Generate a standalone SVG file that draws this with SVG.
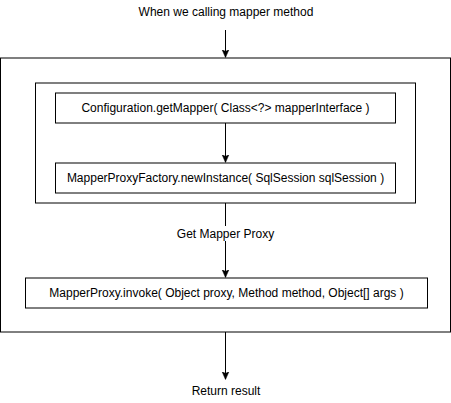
<svg xmlns="http://www.w3.org/2000/svg" width="451" height="403" viewBox="0 0 451 403">
<defs>
<style>
.box{fill:#fff;stroke:#000;stroke-width:1}
.frame{fill:none;stroke:#000;stroke-width:1}
.t{font-family:"Liberation Sans",Arial,sans-serif;font-size:12px;fill:#000;text-anchor:middle}
.c{fill:none;stroke:#000;stroke-width:1}
</style>
<marker id="ah" markerWidth="8" markerHeight="10" refX="7.5" refY="4" orient="auto" markerUnits="userSpaceOnUse" viewBox="0 0 8 8">
<path d="M0,0.5 L8,4 L0,7.5 L2,4 Z" fill="#000" stroke="#000" stroke-width="0.5"/>
</marker>
</defs>
<rect width="451" height="403" fill="#fff"/>
<g id="outer"><rect class="frame" x="0.5" y="58" width="450" height="274"/></g>
<g id="inner"><rect class="frame" x="35.5" y="83" width="380" height="120"/></g>
<g id="getMapper"><rect class="box" x="55.5" y="93" width="340" height="30"/><text class="t" x="225.5" y="112">Configuration.getMapper( Class&lt;?&gt; mapperInterface )</text></g>
<g id="newInstance"><rect class="box" x="55.5" y="163" width="340" height="30"/><text class="t" x="225.5" y="182">MapperProxyFactory.newInstance( SqlSession sqlSession )</text></g>
<g id="invoke"><rect class="box" x="25.5" y="278" width="402" height="30"/><text class="t" x="226.5" y="297">MapperProxy.invoke( Object proxy, Method method, Object[] args )</text></g>
<g id="start"><text class="t" x="226" y="16">When we calling mapper method</text></g>
<g id="end"><text class="t" x="226" y="395">Return result</text></g>
<g id="connectors">
<line class="c" x1="225.5" y1="30" x2="225.5" y2="57" marker-end="url(#ah)"/>
<line class="c" x1="225.5" y1="123" x2="225.5" y2="162" marker-end="url(#ah)"/>
<line class="c" x1="225.5" y1="203" x2="225.5" y2="277" marker-end="url(#ah)"/>
<rect x="177" y="226" width="96" height="15" fill="#fff"/>
<text class="t" x="225.5" y="238">Get Mapper Proxy</text>
<line class="c" x1="225.5" y1="332" x2="225.5" y2="379" marker-end="url(#ah)"/>
</g>
</svg>
